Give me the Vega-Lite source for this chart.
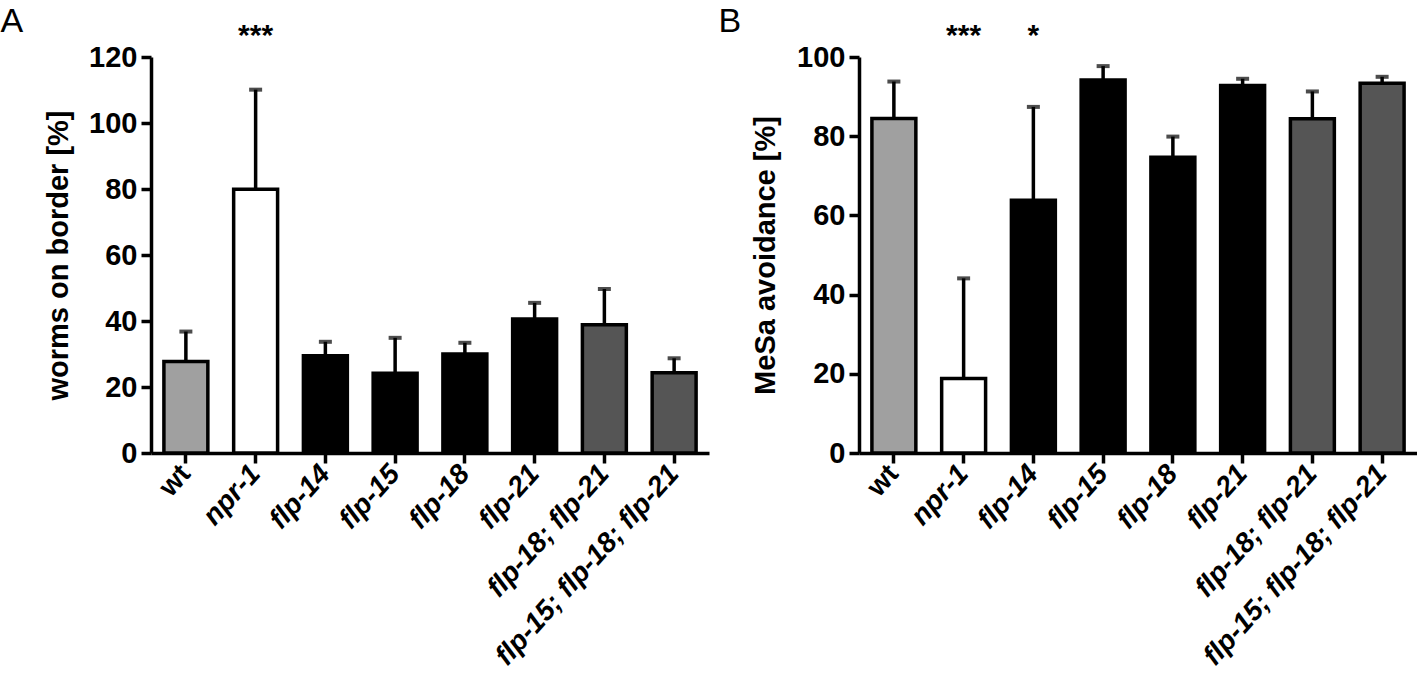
{
  "$schema": "https://vega.github.io/schema/vega-lite/v6.json",
  "background": "white",
  "padding": {"left": 0, "top": 4, "right": 0, "bottom": 0},
  "spacing": 150,
  "bounds": "flush",
  "datasets": {
    "A": [
      {"genotype": "wt", "mean": 27.7, "upper": 36.8, "group": "wt"},
      {"genotype": "npr-1", "mean": 79.9, "upper": 110.1, "group": "npr-1"},
      {"genotype": "flp-14", "mean": 29.5, "upper": 33.7, "group": "single"},
      {"genotype": "flp-15", "mean": 24.2, "upper": 34.9, "group": "single"},
      {"genotype": "flp-18", "mean": 30.0, "upper": 33.4, "group": "single"},
      {"genotype": "flp-21", "mean": 40.6, "upper": 45.5, "group": "single"},
      {"genotype": "flp-18; flp-21", "mean": 38.9, "upper": 49.7, "group": "multi"},
      {"genotype": "flp-15; flp-18; flp-21", "mean": 24.3, "upper": 28.7, "group": "multi"}
    ],
    "B": [
      {"genotype": "wt", "mean": 84.5, "upper": 93.8, "group": "wt"},
      {"genotype": "npr-1", "mean": 18.8, "upper": 44.1, "group": "npr-1"},
      {"genotype": "flp-14", "mean": 63.8, "upper": 87.4, "group": "single"},
      {"genotype": "flp-15", "mean": 94.2, "upper": 97.7, "group": "single"},
      {"genotype": "flp-18", "mean": 74.7, "upper": 79.9, "group": "single"},
      {"genotype": "flp-21", "mean": 92.8, "upper": 94.5, "group": "single"},
      {"genotype": "flp-18; flp-21", "mean": 84.4, "upper": 91.3, "group": "multi"},
      {"genotype": "flp-15; flp-18; flp-21", "mean": 93.4, "upper": 95.0, "group": "multi"}
    ],
    "starsA": [{"genotype": "npr-1", "label": "***"}],
    "starsB": [{"genotype": "npr-1", "label": "***"}, {"genotype": "flp-14", "label": "*"}]
  },
  "config": {
    "view": {"stroke": null},
    "font": "Liberation Sans",
    "axis": {
      "grid": false,
      "domainColor": "black",
      "domainWidth": 3.5,
      "tickColor": "black",
      "tickWidth": 3.5,
      "tickSize": 10,
      "labelColor": "black",
      "labelFontWeight": "bold",
      "labelFont": "Liberation Sans",
      "labelLimit": 0,
      "titleColor": "black",
      "titleFontWeight": "bold",
      "titleFont": "Liberation Sans",
      "titleFontSize": 29
    },
    "title": {"color": "black", "font": "Liberation Sans", "fontWeight": "normal", "fontSize": 34}
  },
  "hconcat": [
    {
      "width": 558,
      "height": 396,
      "title": {"text": "A", "anchor": "start", "frame": "bounds", "dx": -44, "offset": -18},
      "layer": [
        {
          "data": {"name": "A"},
          "mark": {"type": "rule", "strokeWidth": 3.5, "color": "black"},
          "encoding": {
            "x": {"field": "genotype", "type": "nominal", "title": null,
              "scale": {"domain": ["wt", "npr-1", "flp-14", "flp-15", "flp-18", "flp-21", "flp-18; flp-21", "flp-15; flp-18; flp-21"], "paddingInner": 0.37, "paddingOuter": 0.185},
              "axis": {"labelFontSize": 28, "labelAngle": -48, "labelAlign": "right", "labelBaseline": "middle", "labelPadding": 6,
                "labelFontStyle": {"condition": {"test": "datum.value == 'wt'", "value": "normal"}, "value": "italic"}}},
            "y": {"field": "mean", "type": "quantitative", "title": "worms on border [%]",
              "scale": {"domain": [0, 120], "nice": false},
              "axis": {"values": [0, 20, 40, 60, 80, 100, 120], "labelFontSize": 29, "labelPadding": 4, "titlePadding": 15}},
            "y2": {"field": "upper"}
          }
        },
        {
          "data": {"name": "A"},
          "mark": {"type": "tick", "size": 13, "thickness": 4, "color": "black"},
          "encoding": {
            "x": {"field": "genotype", "type": "nominal"},
            "y": {"field": "upper", "type": "quantitative"}
          }
        },
        {
          "data": {"name": "A"},
          "mark": {"type": "bar", "stroke": "black", "strokeWidth": 3.5},
          "encoding": {
            "x": {"field": "genotype", "type": "nominal"},
            "y": {"field": "mean", "type": "quantitative"},
            "fill": {"field": "group", "type": "nominal", "legend": null,
              "scale": {"domain": ["wt", "npr-1", "single", "multi"], "range": ["#a0a0a0", "#ffffff", "#000000", "#555555"]}}
          }
        },
        {
          "data": {"name": "starsA"},
          "mark": {"type": "text", "fontSize": 30, "fontWeight": "bold", "color": "black", "baseline": "middle"},
          "encoding": {
            "x": {"field": "genotype", "type": "nominal"},
            "y": {"datum": 126.5},
            "text": {"field": "label"}
          }
        }
      ]
    },
    {
      "width": 558,
      "height": 396,
      "title": {"text": "B", "anchor": "start", "frame": "bounds", "dx": -33, "offset": -18},
      "layer": [
        {
          "data": {"name": "B"},
          "mark": {"type": "rule", "strokeWidth": 3.5, "color": "black"},
          "encoding": {
            "x": {"field": "genotype", "type": "nominal", "title": null,
              "scale": {"domain": ["wt", "npr-1", "flp-14", "flp-15", "flp-18", "flp-21", "flp-18; flp-21", "flp-15; flp-18; flp-21"], "paddingInner": 0.37, "paddingOuter": 0.185},
              "axis": {"labelFontSize": 28, "labelAngle": -48, "labelAlign": "right", "labelBaseline": "middle", "labelPadding": 6,
                "labelFontStyle": {"condition": {"test": "datum.value == 'wt'", "value": "normal"}, "value": "italic"}}},
            "y": {"field": "mean", "type": "quantitative", "title": "MeSa avoidance [%]",
              "scale": {"domain": [0, 100], "nice": false},
              "axis": {"values": [0, 20, 40, 60, 80, 100], "labelFontSize": 29, "labelPadding": 4, "titlePadding": 16}},
            "y2": {"field": "upper"}
          }
        },
        {
          "data": {"name": "B"},
          "mark": {"type": "tick", "size": 13, "thickness": 4, "color": "black"},
          "encoding": {
            "x": {"field": "genotype", "type": "nominal"},
            "y": {"field": "upper", "type": "quantitative"}
          }
        },
        {
          "data": {"name": "B"},
          "mark": {"type": "bar", "stroke": "black", "strokeWidth": 3.5},
          "encoding": {
            "x": {"field": "genotype", "type": "nominal"},
            "y": {"field": "mean", "type": "quantitative"},
            "fill": {"field": "group", "type": "nominal", "legend": null,
              "scale": {"domain": ["wt", "npr-1", "single", "multi"], "range": ["#a0a0a0", "#ffffff", "#000000", "#555555"]}}
          }
        },
        {
          "data": {"name": "starsB"},
          "mark": {"type": "text", "fontSize": 30, "fontWeight": "bold", "color": "black", "baseline": "middle"},
          "encoding": {
            "x": {"field": "genotype", "type": "nominal"},
            "y": {"datum": 105.3},
            "text": {"field": "label"}
          }
        }
      ]
    }
  ]
}
